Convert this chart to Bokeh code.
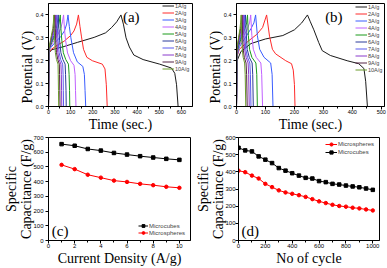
from bokeh.plotting import figure
from bokeh.layouts import column, row
from bokeh.models import Label, FixedTicker, PrintfTickFormatter, Legend, LegendItem
from bokeh.embed import file_html
from bokeh.resources import INLINE

# ---------------- data ----------------
gcd_labels = ["1A/g", "2A/g", "3A/g", "4A/g", "5A/g", "6A/g", "7A/g", "8A/g", "9A/g", "10A/g"]
gcd_colors = ["#1a1a1a", "#ff2a2a", "#3a5cff", "#c060ff", "#1a9a1a",
              "#2a3a9a", "#5a5aee", "#8a3acc", "#552244", "#6a9a2a"]

# panel (a) : microcubes GCD curves (time s, potential V)
a1_t = [0, 3, 15, 70, 130, 206, 258, 285, 308, 327, 338, 350, 365, 385, 427, 502, 555, 570, 578, 585]
a1_v = [0, 0.235, 0.248, 0.262, 0.28, 0.302, 0.322, 0.345, 0.37, 0.4, 0.36, 0.3, 0.26, 0.225, 0.205, 0.185, 0.168, 0.145, 0.095, 0]
a2_t = [0, 3, 10, 40, 70, 100, 115, 127, 135, 142, 149, 158, 173, 198, 243, 255, 261, 265]
a2_v = [0, 0.235, 0.248, 0.268, 0.285, 0.31, 0.33, 0.36, 0.4, 0.35, 0.304, 0.25, 0.215, 0.2, 0.185, 0.164, 0.095, 0]
a3_t = [0, 2, 8, 30, 55, 72, 82, 88, 94, 101, 113, 130, 155, 162, 165, 168]
a3_v = [0, 0.24, 0.255, 0.28, 0.305, 0.33, 0.36, 0.4, 0.35, 0.3, 0.235, 0.195, 0.175, 0.14, 0.07, 0]
a4_t = [0, 2, 6, 20, 40, 55, 63, 68, 72, 77, 86, 100, 115, 120, 122, 124]
a4_v = [0, 0.24, 0.255, 0.28, 0.31, 0.34, 0.37, 0.4, 0.34, 0.29, 0.234, 0.2, 0.18, 0.14, 0.07, 0]
a5_t = [0, 2, 5, 15, 30, 42, 48, 53, 56, 60, 67, 78, 90, 93, 95, 96]
a6_t = [0, 1, 4, 12, 25, 35, 40, 44, 47, 50, 56, 65, 75, 77, 79, 80]
a7_t = [0, 1, 3, 10, 21, 30, 34, 38, 40, 43, 48, 55, 64, 66, 67, 68]
a8_t = [0, 1, 3, 9, 18, 26, 30, 33, 35, 38, 42, 48, 56, 58, 59, 60]
a9_t = [0, 1, 3, 8, 15, 22, 25, 28, 30, 32, 36, 42, 49, 50, 51, 52]
a10_t = [0, 1, 2, 7, 13, 19, 22, 24, 26, 28, 31, 36, 43, 44, 45, 46]
a_fast_v = [0, 0.24, 0.255, 0.28, 0.31, 0.34, 0.365, 0.4, 0.34, 0.29, 0.235, 0.205, 0.185, 0.14, 0.07, 0]

# panel (b) : microspheres GCD curves
b1_t = [0, 2, 15, 50, 100, 160, 200, 225, 245, 255, 267, 284, 296, 324, 382, 422, 440, 446, 452]
b1_v = [0, 0.2, 0.24, 0.275, 0.295, 0.31, 0.335, 0.365, 0.4, 0.37, 0.335, 0.279, 0.244, 0.223, 0.2, 0.187, 0.166, 0.11, 0]
b2_t = [0, 2, 10, 40, 70, 90, 104, 114, 124, 135, 170, 190, 196, 200, 202]
b2_v = [0, 0.22, 0.25, 0.285, 0.315, 0.345, 0.4, 0.307, 0.25, 0.23, 0.2, 0.187, 0.159, 0.096, 0]
b3_t = [0, 2, 10, 30, 50, 60, 66, 72, 80, 95, 118, 123, 126]
b4_t = [0, 2, 8, 22, 38, 45, 49, 53, 58, 68, 84, 87, 90]
b5_t = [0, 2, 6, 17, 29, 35, 38, 41, 45, 53, 67, 70, 72]
b6_t = [0, 1, 5, 14, 24, 28, 31, 34, 37, 44, 54, 56, 58]
b7_t = [0, 1, 4, 12, 20, 24, 27, 29, 32, 38, 46, 48, 50]
b8_t = [0, 1, 3, 10, 17, 21, 23, 25, 28, 33, 40, 42, 44]
b9_t = [0, 1, 3, 8, 14, 17, 19, 21, 23, 27, 33, 35, 37]
b10_t = [0, 1, 2, 7, 12, 14, 16, 18, 20, 23, 28, 30, 32]
b_fast_v = [0, 0.22, 0.26, 0.3, 0.34, 0.365, 0.4, 0.31, 0.25, 0.215, 0.19, 0.14, 0]

# panel (c) : specific capacitance vs current density
current_density = [1, 2, 3, 4, 5, 6, 7, 8, 9, 10]
cap_cubes_c = [655, 644, 622, 611, 595, 584, 573, 564, 555, 548]
cap_spheres_c = [514, 485, 447, 427, 407, 398, 385, 376, 365, 358]

# panel (d) : cycling
cycles = [0, 50, 100, 150, 200, 250, 300, 350, 400, 450, 500, 550, 600, 650, 700, 750, 800, 850, 900, 950, 1000]
cap_spheres_d = [407, 398, 378, 361, 330, 311, 292, 280, 272, 264, 254, 241, 228, 218, 208, 201, 197, 191, 187, 181, 175]
cap_cubes_d = [540, 525, 519, 490, 471, 451, 422, 407, 392, 378, 365, 361, 346, 340, 330, 326, 320, 315, 310, 303, 295]

a_curves = [(a1_t, a1_v), (a2_t, a2_v), (a3_t, a3_v), (a4_t, a4_v),
            (a5_t, a_fast_v), (a6_t, a_fast_v), (a7_t, a_fast_v), (a8_t, a_fast_v),
            (a9_t, a_fast_v), (a10_t, a_fast_v)]
b_curves = [(b1_t, b1_v), (b2_t, b2_v), (b3_t, b_fast_v), (b4_t, b_fast_v),
            (b5_t, b_fast_v), (b6_t, b_fast_v), (b7_t, b_fast_v), (b8_t, b_fast_v),
            (b9_t, b_fast_v), (b10_t, b_fast_v)]

SERIF = "Liberation Serif"
SANS = "Liberation Sans"
NB = "\u00a0"


def style(p, xt, xminor, yt, yminor, tick_fs):
    p.outline_line_color = "black"
    p.outline_line_width = 1
    p.outline_line_alpha = 1
    p.xgrid.visible = False
    p.ygrid.visible = False
    p.background_fill_color = "white"
    p.border_fill_color = "white"
    p.xaxis.ticker = FixedTicker(ticks=xt, minor_ticks=xminor)
    p.yaxis.ticker = FixedTicker(ticks=yt, minor_ticks=yminor)
    for ax in (p.xaxis[0], p.yaxis[0]):
        ax.axis_line_color = "black"
        ax.axis_line_width = 1
        ax.major_tick_line_color = "black"
        ax.minor_tick_line_color = "black"
        ax.major_tick_out = 3
        ax.major_tick_in = 0
        ax.minor_tick_out = 2
        ax.minor_tick_in = 0
        ax.major_label_text_font = SANS
        ax.major_label_text_font_size = tick_fs
        ax.major_label_text_color = "black"
        ax.major_label_text_line_height = 1.0
        ax.axis_label_text_font = SERIF
        ax.axis_label_text_font_size = "14px"
        ax.axis_label_text_font_style = "normal"
        ax.axis_label_text_color = "black"
        ax.axis_label_text_line_height = 1.0
    p.xaxis.major_label_standoff = 0
    p.xaxis.axis_label_standoff = 0
    p.yaxis.major_label_standoff = 2
    p.yaxis.axis_label_standoff = 2


def gcd_panel(curves, xr, xt, xminor, w, left, right, tag, tag_x, leg_loc):
    p = figure(width=w, height=134, x_range=xr, y_range=(0, 0.45),
               min_border_left=left, min_border_right=right, min_border_top=3,
               min_border_bottom=25, output_backend="svg", toolbar_location=None)
    style(p, xt, xminor, [0, 0.1, 0.2, 0.3, 0.4], [0.05, 0.15, 0.25, 0.35], "5.5px")
    p.yaxis.formatter = PrintfTickFormatter(format="%.1f")
    p.xaxis.axis_label = "Time (sec.)"
    p.yaxis.axis_label = "Potential (V)" + NB * 7
    p.yaxis.axis_label_standoff = -2
    items = []
    for (t, v), lab, col in zip(curves, gcd_labels, gcd_colors):
        r = p.line(t, v, line_color=col, line_width=1)
        items.append(LegendItem(label=lab, renderers=[r]))
    leg = Legend(items=items, location=leg_loc, glyph_width=12, glyph_height=7,
                 label_height=7, spacing=0, padding=0, margin=0, label_standoff=1,
                 label_text_font=SANS, label_text_font_size="5.5px",
                 label_text_line_height=1.0,
                 background_fill_alpha=0, border_line_alpha=0)
    p.add_layout(leg, "center")
    p.add_layout(Label(x=tag_x, y=0.357, text=tag, text_font=SERIF,
                       text_font_size="15px", text_color="black"))
    return p


pa = gcd_panel(a_curves, (0, 650), [0, 100, 200, 300, 400, 500, 600],
               [50, 150, 250, 350, 450, 550], 193, 48, 1, "(a)", 336, (114, 34))
pb = gcd_panel(b_curves, (0, 511), [0, 100, 200, 300, 400, 500],
               [50, 150, 250, 350, 450], 194, 43, 3, "(b)", 306, (119, 33))

# panel (c)
pc = figure(width=193, height=134, x_range=(0, 10.85), y_range=(0, 700),
            min_border_left=48, min_border_right=3, min_border_top=3, min_border_bottom=27,
            output_backend="svg", toolbar_location=None)
style(pc, [0, 2, 4, 6, 8, 10], [1, 3, 5, 7, 9], [0, 100, 200, 300, 400, 500, 600, 700], [], "6px")
pc.xaxis.axis_label = "Current Density (A/g)"
pc.yaxis.axis_label = "Specific\nCapacitance (F/g)"
pc.yaxis.axis_label_standoff = -4
l1 = pc.line(current_density, cap_cubes_c, line_color="black", line_width=1)
s1 = pc.scatter(current_density, cap_cubes_c, marker="square", size=3.5, color="black")
l2 = pc.line(current_density, cap_spheres_c, line_color="red", line_width=1)
s2 = pc.scatter(current_density, cap_spheres_c, marker="circle", size=3.5, color="red")
legc = Legend(items=[LegendItem(label="Microcubes", renderers=[l1, s1]),
                     LegendItem(label="Microspheres", renderers=[l2, s2])],
              location=(90, 4), glyph_width=10, glyph_height=7, label_height=7, spacing=0,
              padding=0, margin=0, label_standoff=1, label_text_font=SANS,
              label_text_font_size="6px", label_text_line_height=1.0,
              background_fill_alpha=0, border_line_alpha=0)
pc.add_layout(legc, "center")
pc.add_layout(Label(x=0.25, y=7, text="(c)", text_font=SERIF, text_font_size="15px",
                    text_color="black"))

# panel (d)
pd = figure(width=194, height=134, x_range=(0, 1050), y_range=(0, 600),
            min_border_left=45, min_border_right=8, min_border_top=3, min_border_bottom=27,
            output_backend="svg", toolbar_location=None)
style(pd, [0, 200, 400, 600, 800, 1000], [100, 300, 500, 700, 900],
      [0, 100, 200, 300, 400, 500, 600], [], "6px")
pd.xaxis.axis_label = "No of cycle"
pd.yaxis.axis_label = "Specific\nCapacitance (F/g)"
pd.yaxis.major_label_standoff = 0
pd.yaxis.axis_label_standoff = -4
m1 = pd.line(cycles, cap_spheres_d, line_color="red", line_width=1)
n1 = pd.scatter(cycles, cap_spheres_d, marker="circle", size=3.5, color="red")
m2 = pd.line(cycles, cap_cubes_d, line_color="black", line_width=1)
n2 = pd.scatter(cycles, cap_cubes_d, marker="square", size=3.5, color="black")
legd = Legend(items=[LegendItem(label="Microspheres", renderers=[m1, n1]),
                     LegendItem(label="Microcubes", renderers=[m2, n2])],
              location=(87, 84), glyph_width=12, glyph_height=8, label_height=8, spacing=0,
              padding=0, margin=0, label_standoff=1, label_text_font=SANS,
              label_text_font_size="6px", label_text_line_height=1.0,
              background_fill_alpha=0, border_line_alpha=0)
pd.add_layout(legd, "center")
pd.add_layout(Label(x=22, y=6, text="(d)", text_font=SERIF, text_font_size="15px",
                    text_color="black"))

layout = column(row(pa, pb), row(pc, pd))

with open("out.html", "w") as f:
    f.write(file_html(layout, INLINE))
